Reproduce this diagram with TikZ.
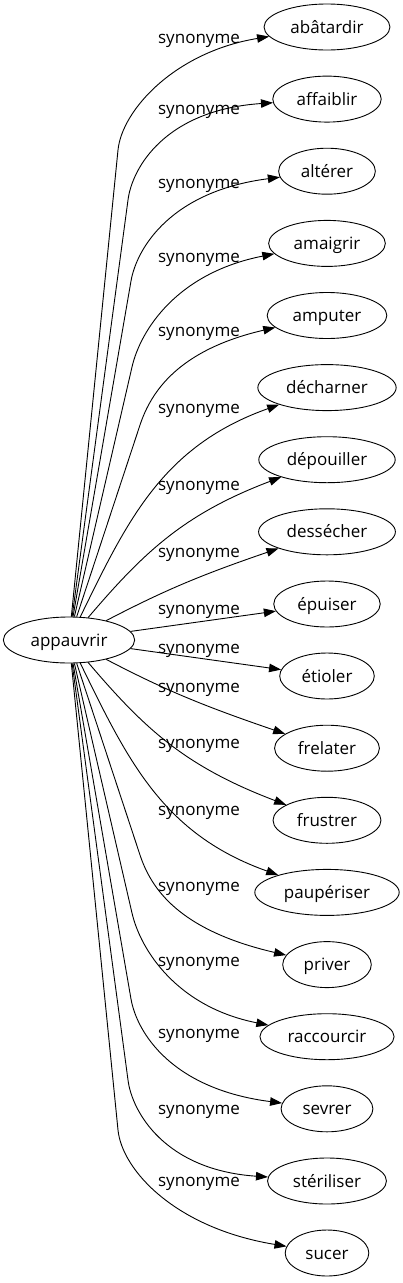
\documentclass[tikz,border=0pt]{standalone}
\usepackage{fontspec}
\setmainfont{Open Sans}
\usetikzlibrary{arrows.meta,shapes.geometric}
\begin{document}
\begin{tikzpicture}[x=1pt,y=-1pt,
  every node/.style={font=\fontsize{17}{20}\selectfont, text height=13pt, text depth=1pt},
  word/.style={draw, ellipse, line width=0.9pt, inner xsep=8pt, inner ysep=2pt, minimum height=46pt, minimum width=69pt},
  lab/.style={inner sep=0pt},
  edge/.style={draw, line width=0.9pt, -{Triangle[length=12pt,width=8.5pt]}}]
\path[fill=white] (0,0) rectangle (402,1283);
\useasboundingbox (0,0) rectangle (402,1283);

\node[word] (r) at (69,640) {appauvrir};

\node[word] (t0)  at (327,27)    {abâtardir};
\node[word] (t1)  at (327,99.1)  {affaiblir};
\node[word] (t2)  at (327,171.2) {altérer};
\node[word] (t3)  at (327,243.4) {amaigrir};
\node[word] (t4)  at (327,315.5) {amputer};
\node[word] (t5)  at (327,387.6) {décharner};
\node[word] (t6)  at (327,459.7) {dépouiller};
\node[word] (t7)  at (327,531.8) {dessécher};
\node[word] (t8)  at (327,604)   {épuiser};
\node[word] (t9)  at (327,676)   {étioler};
\node[word] (t10) at (327,748.2) {frelater};
\node[word] (t11) at (327,820.3) {frustrer};
\node[word] (t12) at (327,892.4) {paupériser};
\node[word] (t13) at (327,964.6) {priver};
\node[word] (t14) at (327,1036.7) {raccourcir};
\node[word] (t15) at (327,1108.8) {sevrer};
\node[word] (t16) at (327,1181)  {stériliser};
\node[word] (t17) at (327,1253)  {sucer};

\node[lab] (l0)  at (199,37)   {synonyme};
\node[lab] (l1)  at (199,108)  {synonyme};
\node[lab] (l2)  at (199,182)  {synonyme};
\node[lab] (l3)  at (199,256)  {synonyme};
\node[lab] (l4)  at (199,330)  {synonyme};
\node[lab] (l5)  at (199,407)  {synonyme};
\node[lab] (l6)  at (199,484)  {synonyme};
\node[lab] (l7)  at (199,551)  {synonyme};
\node[lab] (l8)  at (199,608)  {synonyme};
\node[lab] (l9)  at (199,647)  {synonyme};
\node[lab] (l10) at (199,686)  {synonyme};
\node[lab] (l11) at (199,742)  {synonyme};
\node[lab] (l12) at (199,809)  {synonyme};
\node[lab] (l13) at (199,885)  {synonyme};
\node[lab] (l14) at (199,960)  {synonyme};
\node[lab] (l15) at (199,1032) {synonyme};
\node[lab] (l16) at (199,1108) {synonyme};
\node[lab] (l17) at (199,1180) {synonyme};

\coordinate (k0) at (118,150);
\coordinate (k1) at (128,200);
\coordinate (k2) at (131,281);
\coordinate (k3) at (132,367);
\coordinate (k4) at (140,425);
\coordinate (k13) at (140,855);
\coordinate (k14) at (132,913);
\coordinate (k15) at (131,999);
\coordinate (k16) at (128,1080);
\coordinate (k17) at (118,1130);

\draw[edge] (r) -- (k0) .. controls (122,110) and (175,52) .. (t0);
\draw[edge] (r) -- (k1) .. controls (132,168) and (165,110) .. (t1);
\draw[edge] (r) -- (k2) .. controls (137,247) and (172,191) .. (t2);
\draw[edge] (r) -- (k3) .. controls (140.5,330) and (177,273) .. (t3);
\draw[edge] (r) -- (k4) .. controls (151,392) and (178,350) .. (t4);
\draw[edge] (r) .. controls (128,519) and (163,446) .. (t5);
\draw[edge] (r) .. controls (144,552) and (184,514) .. (t6);
\draw[edge] (r) .. controls (165,590) and (201,575) .. (t7);
\draw[edge] (r) -- (t8);
\draw[edge] (r) -- (t9);
\draw[edge] (r) .. controls (165,690) and (201,705) .. (t10);
\draw[edge] (r) .. controls (144,728) and (184,766) .. (t11);
\draw[edge] (r) .. controls (128,761) and (163,834) .. (t12);
\draw[edge] (r) -- (k13) .. controls (151,888) and (178,930) .. (t13);
\draw[edge] (r) -- (k14) .. controls (140.5,950) and (177,1007) .. (t14);
\draw[edge] (r) -- (k15) .. controls (137,1033) and (172,1089) .. (t15);
\draw[edge] (r) -- (k16) .. controls (132,1112) and (165,1170) .. (t16);
\draw[edge] (r) -- (k17) .. controls (122,1170) and (175,1228) .. (t17);
\end{tikzpicture}
\end{document}
